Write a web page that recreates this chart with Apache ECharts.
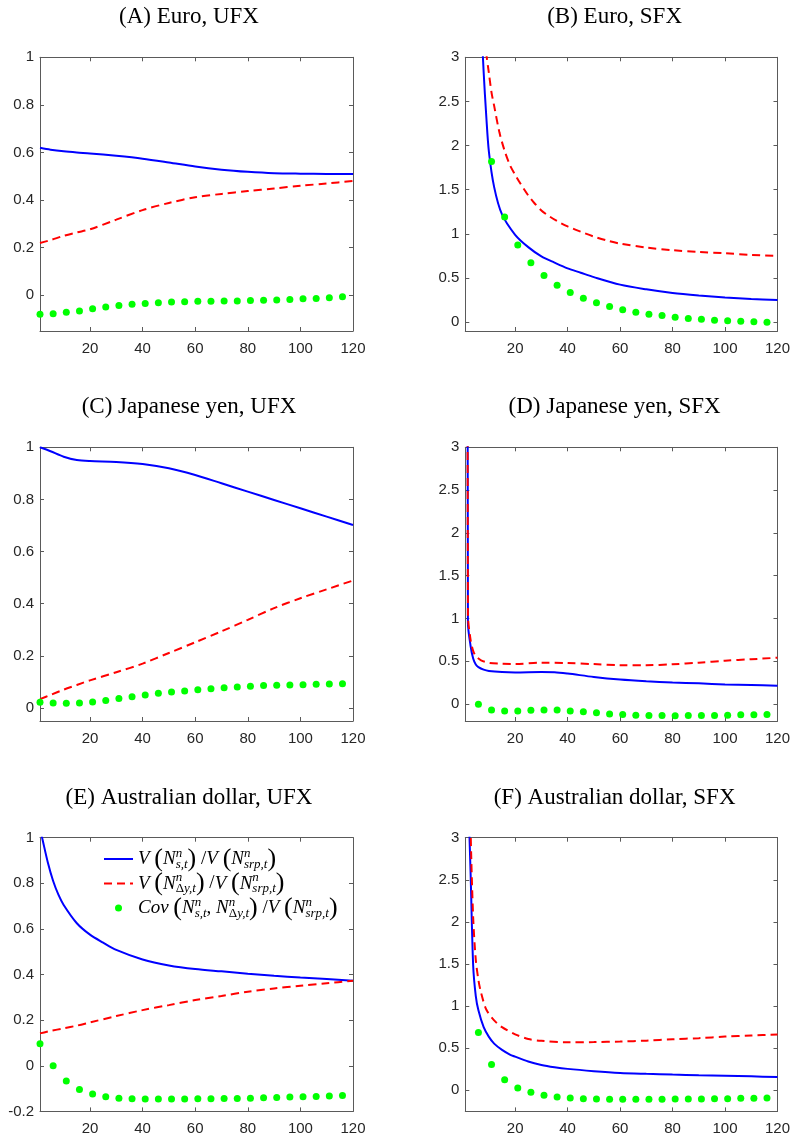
<!DOCTYPE html>
<html>
<head>
<meta charset="utf-8">
<script src="https://cdn.jsdelivr.net/npm/echarts@6/dist/echarts.min.js"></script>
<style>
  html, body { margin: 0; background: #fff; }
  #chart { width: 793px; height: 1139px; }
</style>
</head>
<body>
<div id="chart"></div>
<script>
// tick values
const xTicks = [20, 40, 60, 80, 100, 120];
const ufxTicks = [0, 0.2, 0.4, 0.6, 0.8, 1];
const audUfxTicks = [-0.2, 0, 0.2, 0.4, 0.6, 0.8, 1];
const sfxTicks = [0, 0.5, 1, 1.5, 2, 2.5, 3];

// maturities where the covariance dots are drawn
const dotX = [1, 6, 11, 16, 21, 26, 31, 36, 41, 46, 51, 56, 61, 66, 71, 76, 81, 86, 91, 96, 101, 106, 111, 116];
// maturities for the smoother UFX lines
const lineX = [1, 5, 10, 15, 20, 30, 40, 50, 60, 70, 80, 90, 100, 110, 120];

// (A) Euro, UFX
const euroUfxSpot = [0.62, 0.612, 0.605, 0.6, 0.596, 0.586, 0.574, 0.558, 0.541, 0.528, 0.519, 0.513, 0.511, 0.51, 0.51];
const euroUfxYield = [0.22, 0.232, 0.25, 0.264, 0.277, 0.318, 0.358, 0.388, 0.412, 0.426, 0.438, 0.449, 0.46, 0.47, 0.48];
const euroUfxCov = [-0.08, -0.077, -0.071, -0.066, -0.057, -0.049, -0.043, -0.038, -0.034, -0.031, -0.028, -0.027, -0.025, -0.025, -0.024, -0.024, -0.022, -0.021, -0.02, -0.018, -0.015, -0.013, -0.01, -0.006];

// (B) Euro, SFX
const euroSfxSpotX = [6, 7, 8, 9, 10, 12, 15, 20, 25, 30, 35, 40, 45, 50, 60, 70, 80, 90, 100, 110, 120];
const euroSfxSpot = [4.2, 3.45, 2.83, 2.33, 1.93, 1.53, 1.22, 0.99, 0.85, 0.745, 0.675, 0.61, 0.56, 0.51, 0.425, 0.372, 0.33, 0.302, 0.28, 0.262, 0.25];
const euroSfxYieldX = [8, 9, 10, 11, 12, 14, 16, 18, 20, 22, 25, 27, 30, 33, 36, 40, 45, 50, 55, 60, 70, 80, 90, 100, 110, 120];
const euroSfxYield = [3.5, 3.05, 2.82, 2.6, 2.45, 2.15, 1.94, 1.78, 1.67, 1.57, 1.435, 1.36, 1.265, 1.2, 1.145, 1.085, 1.025, 0.97, 0.925, 0.89, 0.845, 0.815, 0.795, 0.78, 0.762, 0.75];
const euroSfxCov = [null, null, 1.82, 1.19, 0.873, 0.672, 0.529, 0.419, 0.336, 0.272, 0.219, 0.178, 0.14, 0.113, 0.091, 0.076, 0.057, 0.042, 0.034, 0.023, 0.015, 0.011, 0.004, 0.0];

// (C) Japanese yen, UFX
const yenUfxSpot = [1.0, 0.985, 0.964, 0.951, 0.947, 0.944, 0.936, 0.92, 0.894, 0.862, 0.83, 0.798, 0.766, 0.734, 0.702];
const yenUfxYield = [0.034, 0.05, 0.07, 0.088, 0.106, 0.137, 0.17, 0.211, 0.252, 0.294, 0.338, 0.383, 0.421, 0.455, 0.489];
const yenUfxCov = [0.022, 0.019, 0.018, 0.019, 0.023, 0.029, 0.036, 0.043, 0.05, 0.056, 0.061, 0.065, 0.07, 0.074, 0.078, 0.08, 0.083, 0.086, 0.087, 0.088, 0.089, 0.091, 0.092, 0.093];

// (D) Japanese yen, SFX
const yenSfxSpotX = [1, 2, 3, 4, 5, 6, 8, 10, 15, 20, 30, 35, 40, 50, 60, 70, 80, 90, 100, 110, 120];
const yenSfxSpot = [30, 0.95, 0.68, 0.53, 0.46, 0.43, 0.4, 0.385, 0.372, 0.368, 0.372, 0.37, 0.355, 0.315, 0.285, 0.265, 0.25, 0.24, 0.228, 0.22, 0.212];
const yenSfxYieldX = [1, 2, 3, 4, 5, 7, 10, 15, 20, 30, 40, 50, 60, 70, 80, 90, 100, 110, 120];
const yenSfxYield = [30, 1.05, 0.75, 0.62, 0.56, 0.51, 0.48, 0.47, 0.467, 0.482, 0.477, 0.465, 0.453, 0.452, 0.463, 0.482, 0.505, 0.522, 0.54];
const yenSfxCov = [null, -0.004, -0.07, -0.082, -0.082, -0.074, -0.07, -0.07, -0.082, -0.093, -0.105, -0.117, -0.125, -0.132, -0.136, -0.136, -0.14, -0.136, -0.136, -0.136, -0.132, -0.128, -0.128, -0.125];

// (E) Australian dollar, UFX
const audUfxSpotX = [1, 2, 4, 6, 8, 10, 15, 20, 25, 30, 40, 50, 60, 70, 80, 90, 100, 110, 120];
const audUfxSpot = [1.04, 0.99, 0.89, 0.81, 0.75, 0.705, 0.625, 0.575, 0.54, 0.508, 0.466, 0.44, 0.424, 0.414, 0.404, 0.395, 0.387, 0.38, 0.373];
const audUfxYield = [0.142, 0.153, 0.164, 0.176, 0.19, 0.218, 0.244, 0.266, 0.288, 0.306, 0.325, 0.339, 0.351, 0.362, 0.373];
const audUfxCov = [0.097, 0.0, -0.067, -0.104, -0.124, -0.136, -0.142, -0.145, -0.146, -0.146, -0.146, -0.146, -0.145, -0.145, -0.143, -0.143, -0.142, -0.14, -0.139, -0.137, -0.136, -0.135, -0.132, -0.13];

// (F) Australian dollar, SFX
const audSfxSpotX = [2, 3, 4, 5, 6, 8, 10, 12, 15, 18, 20, 25, 30, 35, 40, 50, 60, 70, 80, 90, 100, 110, 120];
const audSfxSpot = [3.6, 2.6, 1.48, 1.12, 0.95, 0.75, 0.635, 0.555, 0.48, 0.425, 0.4, 0.342, 0.302, 0.275, 0.255, 0.228, 0.207, 0.196, 0.187, 0.18, 0.174, 0.166, 0.158];
const audSfxYieldX = [2, 3, 4, 5, 6, 7, 9, 12, 15, 20, 25, 30, 40, 50, 60, 70, 80, 90, 100, 110, 120];
const audSfxYield = [5, 3.12, 2.05, 1.55, 1.31, 1.16, 0.96, 0.83, 0.75, 0.665, 0.61, 0.588, 0.57, 0.573, 0.58, 0.59, 0.607, 0.62, 0.638, 0.652, 0.664];
const audSfxCov = [null, 0.688, 0.308, 0.126, 0.028, -0.024, -0.059, -0.079, -0.091, -0.099, -0.103, -0.107, -0.107, -0.107, -0.107, -0.107, -0.103, -0.103, -0.103, -0.099, -0.099, -0.095, -0.095, -0.091];

const zip = (xs, ys) => xs.map((x, i) => [x, ys[i]]).filter(d => d[1] != null);

const S1 = 'V(N_s)/V(N_srp)';
const S2 = 'V(N_dy)/V(N_srp)';
const S3 = 'Cov(N_s,N_dy)/V(N_srp)';

// panel layout: 2 columns x 3 rows
const colLeft = [40, 465.3];
const colWidth = [313, 312.4];
const rowTop = [57.3, 447.3, 837.7];
const plotH = 273.7;
const titleX = [189, 614.6];
const titleTop = [3.5, 393.5, 784.5];

const panels = [
  { title: '(A) Euro, UFX', ymin: -0.15, ymax: 1, yTicks: ufxTicks,
    spot: zip(lineX, euroUfxSpot), yld: zip(lineX, euroUfxYield), cov: zip(dotX, euroUfxCov) },
  { title: '(B) Euro, SFX', ymin: -0.1, ymax: 3, yTicks: sfxTicks,
    spot: zip(euroSfxSpotX, euroSfxSpot), yld: zip(euroSfxYieldX, euroSfxYield), cov: zip(dotX, euroSfxCov) },
  { title: '(C) Japanese yen, UFX', ymin: -0.05, ymax: 1, yTicks: ufxTicks,
    spot: zip(lineX, yenUfxSpot), yld: zip(lineX, yenUfxYield), cov: zip(dotX, yenUfxCov) },
  { title: '(D) Japanese yen, SFX', ymin: -0.2, ymax: 3, yTicks: sfxTicks,
    spot: zip(yenSfxSpotX, yenSfxSpot), yld: zip(yenSfxYieldX, yenSfxYield), cov: zip(dotX, yenSfxCov) },
  { title: '(E) Australian dollar, UFX', ymin: -0.2, ymax: 1, yTicks: audUfxTicks,
    spot: zip(audUfxSpotX, audUfxSpot), yld: zip(lineX, audUfxYield), cov: zip(dotX, audUfxCov) },
  { title: '(F) Australian dollar, SFX', ymin: -0.25, ymax: 3, yTicks: sfxTicks,
    spot: zip(audSfxSpotX, audSfxSpot), yld: zip(audSfxYieldX, audSfxYield), cov: zip(dotX, audSfxCov) }
];

const frame = { show: true, onZero: false, lineStyle: { color: '#5a5a5a', width: 1 } };
const tickFont = { fontFamily: 'Liberation Sans', fontSize: 15, color: '#262626' };

const titles = [], grids = [], xAxes = [], yAxes = [], series = [];

panels.forEach((p, i) => {
  const col = i % 2, row = Math.floor(i / 2);
  titles.push({
    text: p.title, left: titleX[col], top: titleTop[row], textAlign: 'center', padding: 0,
    textStyle: { fontFamily: 'Liberation Serif', fontSize: 23, fontWeight: 'normal', color: '#000', lineHeight: 26 }
  });
  grids.push({ left: colLeft[col], top: rowTop[row], width: colWidth[col], height: plotH });

  // bottom + top x axes (box with inward ticks)
  xAxes.push({
    gridIndex: i, type: 'value', position: 'bottom', min: 1, max: 120,
    axisLine: frame, splitLine: { show: false },
    axisTick: { show: true, inside: true, length: 4, customValues: xTicks, lineStyle: { color: '#5a5a5a' } },
    axisLabel: { show: true, customValues: xTicks, margin: 10, ...tickFont }
  });
  xAxes.push({
    gridIndex: i, type: 'value', position: 'top', min: 1, max: 120,
    axisLine: frame, splitLine: { show: false },
    axisTick: { show: true, inside: true, length: 4, customValues: xTicks, lineStyle: { color: '#5a5a5a' } },
    axisLabel: { show: false }
  });
  // left + right y axes
  yAxes.push({
    gridIndex: i, type: 'value', position: 'left', min: p.ymin, max: p.ymax,
    axisLine: frame, splitLine: { show: false },
    axisTick: { show: true, inside: true, length: 4, customValues: p.yTicks, lineStyle: { color: '#5a5a5a' } },
    axisLabel: { show: true, customValues: p.yTicks, margin: 6, ...tickFont }
  });
  yAxes.push({
    gridIndex: i, type: 'value', position: 'right', min: p.ymin, max: p.ymax,
    axisLine: frame, splitLine: { show: false },
    axisTick: { show: true, inside: true, length: 4, customValues: p.yTicks, lineStyle: { color: '#5a5a5a' } },
    axisLabel: { show: false }
  });

  const xi = i * 2, yi = i * 2;
  series.push({
    name: S1, type: 'line', xAxisIndex: xi, yAxisIndex: yi, data: p.spot,
    symbol: 'none', smooth: 0.3, clip: true,
    lineStyle: { color: '#0000ff', width: 2 }, itemStyle: { color: '#0000ff' }, z: 3
  });
  series.push({
    name: S2, type: 'line', xAxisIndex: xi, yAxisIndex: yi, data: p.yld,
    symbol: 'none', smooth: 0.3, clip: true,
    lineStyle: { color: '#ff0000', width: 2, type: [8, 5] }, itemStyle: { color: '#ff0000' }, z: 4
  });
  series.push({
    name: S3, type: 'scatter', xAxisIndex: xi, yAxisIndex: yi, data: p.cov,
    symbol: 'circle', symbolSize: 7, clip: true,
    itemStyle: { color: '#00ff00', opacity: 1 }, z: 5
  });
});

// legend labels, written as rich text to mimic the LaTeX formulas
const legendText = {};
legendText[S1] = '{v|V }{p|(}{v|N}{sup|n}{sub|s,t}{p|)}{v| }{r|/}{v|V }{p|(}{v|N}{sup|n}{sub|srp,t}{p|)}';
legendText[S2] = '{v|V }{p|(}{v|N}{sup|n}{subu|Δ}{sub|y,t}{p|)}{v| }{r|/}{v|V }{p|(}{v|N}{sup|n}{sub|srp,t}{p|)}';
legendText[S3] = '{v|Cov }{p|(}{v|N}{sup|n}{sub|s,t}{r|, }{v|N}{sup|n}{subu|Δ}{sub|y,t}{p|)}{v| }{r|/}{v|V }{p|(}{v|N}{sup|n}{sub|srp,t}{p|)}';

const serif = 'Liberation Serif';
const option = {
  animation: false,
  backgroundColor: '#fff',
  title: titles,
  grid: grids,
  xAxis: xAxes,
  yAxis: yAxes,
  legend: {
    left: 103, top: 846, orient: 'vertical', padding: 0,
    itemWidth: 29, itemHeight: 7, itemGap: -1.5, selectedMode: false,
    data: [
      { name: S1, itemStyle: { opacity: 0 } },
      { name: S2, itemStyle: { opacity: 0 } },
      { name: S3 }
    ],
    formatter: name => legendText[name],
    textStyle: {
      color: '#000',
      rich: {
        v: { fontFamily: serif, fontStyle: 'italic', fontSize: 19, color: '#000', lineHeight: 24, verticalAlign: 'middle' },
        r: { fontFamily: serif, fontSize: 19, color: '#000', lineHeight: 24, verticalAlign: 'middle' },
        p: { fontFamily: serif, fontSize: 26, color: '#000', lineHeight: 24, verticalAlign: 'middle' },
        sup: { fontFamily: serif, fontStyle: 'italic', fontSize: 13, color: '#000', lineHeight: 13, verticalAlign: 'top', width: 0 },
        sub: { fontFamily: serif, fontStyle: 'italic', fontSize: 13, color: '#000', lineHeight: 13, verticalAlign: 'bottom' },
        subu: { fontFamily: serif, fontSize: 13, color: '#000', lineHeight: 13, verticalAlign: 'bottom' }
      }
    }
  },
  series: series
};

const chart = echarts.init(document.getElementById('chart'), null, { renderer: 'canvas' });
chart.setOption(option);
</script>
</body>
</html>
